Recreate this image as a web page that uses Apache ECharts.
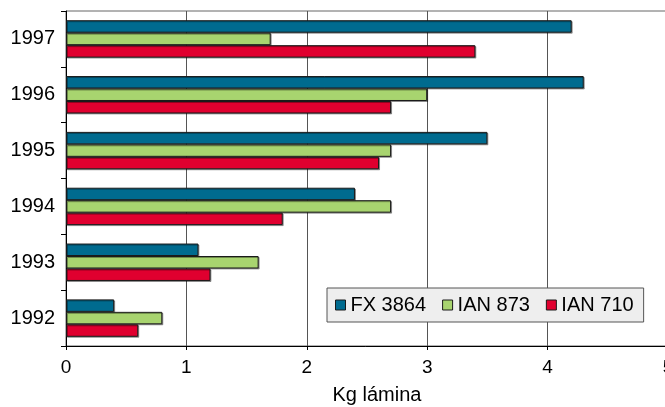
<!DOCTYPE html>
<html>
<head>
<meta charset="utf-8">
<script src="https://cdn.jsdelivr.net/npm/echarts@6/dist/echarts.min.js"></script>
<style>
  html, body { margin: 0; padding: 0; background: #fff; }
  #chart { width: 665px; height: 407px; }
</style>
</head>
<body>
<div id="chart"></div>
<script>
// Years, bottom to top
const years = ['1992', '1993', '1994', '1995', '1996', '1997'];
// Kg of lamina per clone
const fx3864 = [0.4, 1.1, 2.4, 3.5, 4.3, 4.2];
const ian873 = [0.8, 1.6, 2.7, 2.7, 3.0, 1.7];
const ian710 = [0.6, 1.2, 1.8, 2.6, 2.7, 3.4];
const xTicks = [0, 1, 2, 3, 4, 5];

const FONT = 'Liberation Sans, Arial, sans-serif';

const chart = echarts.init(document.getElementById('chart'), null, { renderer: 'canvas' });

function barSeries(name, data, color) {
  return {
    name: name,
    type: 'bar',
    data: data,
    barGap: '0%',
    barCategoryGap: '33%',
    itemStyle: {
      color: color,
      borderColor: '#1a1a1a',
      borderWidth: 1,
      shadowColor: 'rgba(0,0,0,0.35)',
      shadowOffsetX: 1,
      shadowOffsetY: 1
    },
    emphasis: { disabled: true }
  };
}

chart.setOption({
  animation: false,
  backgroundColor: '#ffffff',
  grid: {
    left: 66,
    top: 11,
    width: 602,
    height: 335,
    outerBoundsMode: 'none',
    containLabel: false,
    show: true,
    borderColor: '#666',
    borderWidth: 1
  },
  legend: {
    data: ['FX 3864', 'IAN 873', 'IAN 710'],
    left: 327,
    top: 288,
    padding: [7, 10, 7, 8],
    itemGap: 16,
    itemWidth: 10,
    itemHeight: 10,
    icon: 'rect',
    backgroundColor: '#eeeeee',
    borderColor: '#555',
    borderWidth: 1,
    textStyle: { fontFamily: FONT, fontSize: 20, color: '#000' },
    itemStyle: { borderColor: '#1a1a1a', borderWidth: 1, shadowBlur: 0, shadowOffsetX: 0, shadowOffsetY: 0 }
  },
  xAxis: {
    type: 'value',
    min: xTicks[0],
    max: xTicks[xTicks.length - 1],
    interval: 1,
    name: 'Kg lámina',
    nameLocation: 'middle',
    nameGap: 39,
    nameTextStyle: { fontFamily: FONT, fontSize: 20, color: '#000', padding: [0, 0, 0, 20] },
    axisLine: { show: true, lineStyle: { color: '#000', width: 1 } },
    axisTick: { show: true, length: 4, lineStyle: { color: '#000' } },
    axisLabel: { fontFamily: FONT, fontSize: 19, color: '#000', margin: 12 },
    splitLine: { show: true, lineStyle: { color: '#555', width: 1 } }
  },
  yAxis: {
    type: 'category',
    data: years,
    axisLine: { show: true, lineStyle: { color: '#000', width: 1 } },
    axisTick: { show: true, length: 5, lineStyle: { color: '#000' } },
    axisLabel: { fontFamily: FONT, fontSize: 20, color: '#000', margin: 11, padding: [3, 0, 0, 0] },
    splitLine: { show: false }
  },
  series: [
    barSeries('FX 3864', fx3864, '#006b8f'),
    barSeries('IAN 873', ian873, '#a8d46f'),
    barSeries('IAN 710', ian710, '#e0002f')
  ]
});
</script>
</body>
</html>
